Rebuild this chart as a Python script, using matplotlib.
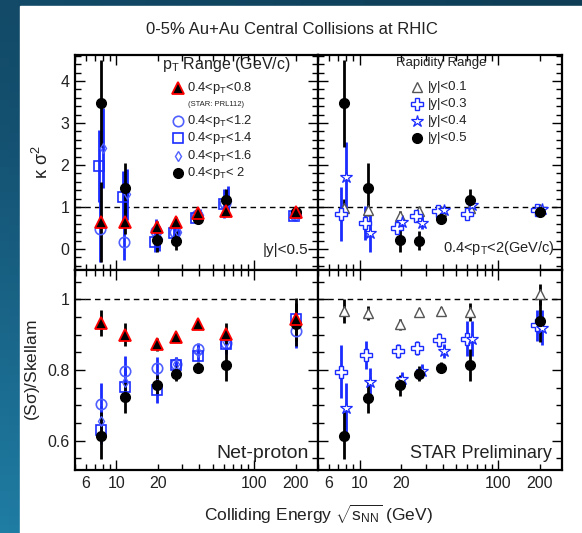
import numpy as np
import matplotlib
matplotlib.use("Agg")
import matplotlib.pyplot as plt
from matplotlib.ticker import FixedLocator, FuncFormatter, MultipleLocator
from matplotlib.colors import LinearSegmentedColormap

plt.rcParams['font.family'] = ['Liberation Sans', 'DejaVu Sans']
plt.rcParams['mathtext.fontset'] = 'custom'
plt.rcParams['mathtext.rm'] = 'Liberation Sans'
plt.rcParams['mathtext.it'] = 'Liberation Sans'
plt.rcParams['mathtext.default'] = 'regular'

# collision energies (GeV)
energy = [7.7, 11.5, 19.6, 27, 39, 62.4, 200]

# kappa*sigma^2, pT ranges, |y|<0.5
ks_pt08 = [0.65, 0.65, 0.52, 0.65, 0.86, 0.90, 0.87]
ks_pt08_err = [0.95, 0.30, 0.15, 0.12, 0.10, 0.10, 0.06]
ks_pt12 = [0.48, 0.17, 0.42, 0.40, 0.80, 1.10, 0.80]
ks_pt12_err = [0.78, 0.44, 0.30, 0.25, 0.15, 0.30, 0.08]
ks_pt14 = [1.98, 1.25, 0.17, 0.38, 0.75, 1.08, 0.78]
ks_pt14_err = [0.85, 0.60, 0.25, 0.20, 0.12, 0.35, 0.06]
ks_pt16 = [2.40, 1.30, 0.25, 0.40, 0.80, 1.15, 0.82]
ks_pt16_err = [0.95, 0.60, 0.30, 0.20, 0.15, 0.35, 0.06]
ks_pt20 = [3.47, 1.45, 0.22, 0.20, 0.72, 1.17, 0.87]
ks_pt20_err = [1.03, 0.60, 0.30, 0.22, 0.10, 0.25, 0.05]

# kappa*sigma^2, rapidity ranges, 0.4<pT<2
ks_y01 = [0.98, 0.93, 0.79, 0.90, 0.90, 0.98, 0.95]
ks_y01_err = [0.20, 0.15, 0.12, 0.10, 0.08, 0.15, 0.05]
ks_y03 = [0.83, 0.62, 0.50, 0.78, 0.90, 0.83, 0.93]
ks_y03_err = [0.65, 0.40, 0.15, 0.12, 0.10, 0.15, 0.05]
ks_y04 = [1.72, 0.39, 0.65, 0.63, 0.92, 1.05, 0.95]
ks_y04_err = [0.82, 0.45, 0.15, 0.15, 0.10, 0.15, 0.05]
ks_y05 = ks_pt20
ks_y05_err = ks_pt20_err

# S*sigma / Skellam, pT ranges
ss_pt08 = [0.933, 0.900, 0.873, 0.892, 0.930, 0.903, 0.943]
ss_pt08_err = [0.037, 0.032, 0.018, 0.010, 0.010, 0.030, 0.060]
ss_pt12 = [0.705, 0.797, 0.807, 0.816, 0.860, 0.875, 0.911]
ss_pt12_err = [0.058, 0.042, 0.030, 0.020, 0.015, 0.030, 0.050]
ss_pt14 = [0.630, 0.752, 0.743, 0.814, 0.841, 0.874, 0.943]
ss_pt14_err = [0.040, 0.040, 0.035, 0.020, 0.015, 0.025, 0.030]
ss_pt16 = [0.657, 0.765, 0.760, 0.818, 0.852, 0.878, 0.930]
ss_pt16_err = [0.040, 0.040, 0.030, 0.020, 0.015, 0.025, 0.040]
ss_pt20 = [0.614, 0.723, 0.757, 0.790, 0.807, 0.814, 0.929]
ss_pt20_err = [0.066, 0.044, 0.028, 0.020, 0.016, 0.045, 0.060]

# S*sigma / Skellam, rapidity ranges
ss_y01 = [0.967, 0.962, 0.929, 0.965, 0.967, 0.964, 1.014]
ss_y01_err = [0.033, 0.020, 0.015, 0.010, 0.010, 0.025, 0.030]
ss_y03 = [0.795, 0.843, 0.854, 0.862, 0.886, 0.889, 0.926]
ss_y03_err = [0.075, 0.040, 0.020, 0.020, 0.020, 0.050, 0.045]
ss_y04 = [0.692, 0.765, 0.774, 0.797, 0.854, 0.889, 0.920]
ss_y04_err = [0.070, 0.040, 0.020, 0.020, 0.020, 0.050, 0.050]
ss_y05 = [0.614, 0.722, 0.757, 0.790, 0.807, 0.814, 0.940]
ss_y05_err = [0.066, 0.044, 0.030, 0.020, 0.016, 0.045, 0.060]

BLUE = '#1a2cff'
LBLUE = '#5060ff'
TXT = '#222222'

styles = {
    'pt08': dict(marker='^', mfc='black', mec='red', mew=1.3, ms=8, ecolor='black'),
    'pt12': dict(marker='o', mfc='none', mec=LBLUE, mew=1.2, ms=7.5, ecolor=BLUE),
    'pt14': dict(marker='s', mfc='none', mec=BLUE, mew=1.2, ms=7, ecolor=BLUE),
    'pt16': dict(marker='d', mfc='none', mec=LBLUE, mew=1.0, ms=5, ecolor=BLUE),
    'pt20': dict(marker='o', mfc='black', mec='black', mew=1.0, ms=7, ecolor='black'),
    'y01': dict(marker='^', mfc='white', mec='#555555', mew=1.0, ms=7, ecolor='black'),
    'y03': dict(marker='P', mfc='white', mec=BLUE, mew=1.0, ms=8, ecolor=BLUE),
    'y04': dict(marker='*', mfc='white', mec=BLUE, mew=0.9, ms=9, ecolor=BLUE),
    'y05': dict(marker='o', mfc='black', mec='black', mew=1.0, ms=7, ecolor='black'),
}


def draw(ax, y, yerr, key, shift=1.0):
    x = np.array(energy) * shift
    st = dict(styles[key])
    ecolor = st.pop('ecolor')
    ax.errorbar(x, y, yerr=yerr, fmt='none', ecolor=ecolor, elinewidth=2, capsize=0, zorder=2)
    ax.plot(x, y, ls='none', zorder=3, **st)


def legend_marker(fig, x, y, key):
    st = dict(styles[key])
    st.pop('ecolor')
    fig.add_artist(plt.Line2D([x], [y], ls='none', transform=fig.transFigure, **st))


def style_axes(ax, bottom_row, left_col):
    ax.set_xscale('log')
    ax.set_xlim(5, 290)
    ax.axhline(1, color='black', ls=(0, (4, 3)), lw=1.0, zorder=1)
    ax.xaxis.set_major_locator(FixedLocator([10, 100]))
    ax.xaxis.set_minor_locator(FixedLocator([5, 6, 7, 8, 9, 20, 30, 40, 50, 60, 70, 80, 90, 200]))
    if bottom_row:
        ax.xaxis.set_major_formatter(FuncFormatter(lambda v, p: '%d' % v))
        ax.xaxis.set_minor_formatter(FuncFormatter(lambda v, p: '%d' % v if v in (6, 20, 200) else ''))
    else:
        ax.xaxis.set_major_formatter(FuncFormatter(lambda v, p: ''))
        ax.xaxis.set_minor_formatter(FuncFormatter(lambda v, p: ''))
    ax.tick_params(which='both', direction='in', top=True, right=True, width=1,
                   labelsize=11.5, labelcolor=TXT, pad=4)
    ax.tick_params(which='major', length=7)
    ax.tick_params(which='minor', length=4)
    if not left_col:
        ax.tick_params(labelleft=False)
    for s in ax.spines.values():
        s.set_linewidth(1.6)


fig = plt.figure(figsize=(5.82, 5.33), dpi=100)

# slide background and white panel
bg = fig.add_axes([0, 0, 1, 1], zorder=-10)
gx, gy = np.meshgrid(np.linspace(0, 1, 64), np.linspace(0, 1, 64))
cmap = LinearSegmentedColormap.from_list('slide', ['#0e3d55', '#145070', '#1f7ca3'])
bg.imshow(0.65 * gy + 0.35 * (1 - gx), cmap=cmap, aspect='auto', extent=[0, 1, 0, 1], origin='upper')
bg.add_patch(plt.Rectangle((20 / 582, 0), 1, (533 - 6) / 533, color='white'))
bg.set_xlim(0, 1)
bg.set_ylim(0, 1)
bg.axis('off')

W, H = 582.0, 533.0
xl, xm, xr = 75 / W, 318 / W, 562 / W
yt, ym, yb = 1 - 55 / H, 1 - 270 / H, 1 - 470 / H

ax_tl = fig.add_axes([xl, ym, xm - xl, yt - ym])
ax_tr = fig.add_axes([xm, ym, xr - xm, yt - ym])
ax_bl = fig.add_axes([xl, yb, xm - xl, ym - yb])
ax_br = fig.add_axes([xm, yb, xr - xm, ym - yb])

# kappa sigma^2 vs pT range
draw(ax_tl, ks_pt12, ks_pt12_err, 'pt12', 0.99)
draw(ax_tl, ks_pt14, ks_pt14_err, 'pt14', 0.97)
draw(ax_tl, ks_pt16, ks_pt16_err, 'pt16', 1.04)
draw(ax_tl, ks_pt20, ks_pt20_err, 'pt20')
draw(ax_tl, ks_pt08, ks_pt08_err, 'pt08')

# kappa sigma^2 vs rapidity range
draw(ax_tr, ks_y01, ks_y01_err, 'y01')
draw(ax_tr, ks_y03, ks_y03_err, 'y03', 0.95)
draw(ax_tr, ks_y04, ks_y04_err, 'y04', 1.04)
draw(ax_tr, ks_y05, ks_y05_err, 'y05')

# S sigma / Skellam vs pT range
draw(ax_bl, ss_pt12, ss_pt12_err, 'pt12')
draw(ax_bl, ss_pt14, ss_pt14_err, 'pt14')
draw(ax_bl, ss_pt16, ss_pt16_err, 'pt16')
draw(ax_bl, ss_pt20, ss_pt20_err, 'pt20')
draw(ax_bl, ss_pt08, ss_pt08_err, 'pt08')

# S sigma / Skellam vs rapidity range
draw(ax_br, ss_y03, ss_y03_err, 'y03', 0.96)
draw(ax_br, ss_y04, ss_y04_err, 'y04', 1.04)
draw(ax_br, ss_y05, ss_y05_err, 'y05')
draw(ax_br, ss_y01, ss_y01_err, 'y01')

for ax in (ax_tl, ax_tr):
    ax.set_ylim(-0.5, 4.62)
    ax.yaxis.set_major_locator(MultipleLocator(1))
    ax.yaxis.set_minor_locator(MultipleLocator(0.2))
for ax in (ax_bl, ax_br):
    ax.set_ylim(0.517, 1.083)
    ax.yaxis.set_major_locator(FixedLocator([0.6, 0.8, 1.0]))
    ax.yaxis.set_minor_locator(MultipleLocator(0.05))
    ax.yaxis.set_major_formatter(FuncFormatter(lambda v, p: '1' if abs(v - 1) < 1e-6 else '%.1f' % v))

style_axes(ax_tl, False, True)
style_axes(ax_tr, False, False)
style_axes(ax_bl, True, True)
style_axes(ax_br, True, False)

ax_tl.set_ylabel(r'$\kappa$ $\sigma^2$', fontsize=13, color=TXT, labelpad=6)
ax_bl.set_ylabel(r'(S$\sigma$)/Skellam', fontsize=12.5, color=TXT, labelpad=4)

fig.text(292 / W, 1 - 30 / H, '0-5% Au+Au Central Collisions at RHIC', ha='center', va='center',
         fontsize=12, color=TXT)
fig.text(318 / W, 1 - 514 / H, r'Colliding Energy $\sqrt{s_{NN}}$ (GeV)', ha='center', va='center',
         fontsize=12.5, color=TXT)

# pT range legend
fig.text(226 / W, 1 - 64 / H, r'p$_T$ Range (GeV/c)', ha='center', va='center', fontsize=11.5, color=TXT)
pt_rows = [('pt08', 88, r'0.4<p$_T$<0.8'), ('pt12', 121, r'0.4<p$_T$<1.2'),
           ('pt14', 138, r'0.4<p$_T$<1.4'), ('pt16', 156, r'0.4<p$_T$<1.6'),
           ('pt20', 173, r'0.4<p$_T$< 2')]
for key, yy, lab in pt_rows:
    legend_marker(fig, 178 / W, 1 - yy / H, key)
    fig.text(187 / W, 1 - yy / H, lab, ha='left', va='center', fontsize=9.3, color=TXT)
fig.text(188 / W, 1 - 105 / H, '(STAR: PRL112)', ha='left', va='center', fontsize=5.5, color=TXT)

# rapidity range legend
fig.text(441 / W, 1 - 63 / H, 'Rapidity Range', ha='center', va='center', fontsize=9.5, color=TXT)
y_rows = [('y01', 87, '|y|<0.1'), ('y03', 104, '|y|<0.3'),
          ('y04', 121, '|y|<0.4'), ('y05', 138, '|y|<0.5')]
for key, yy, lab in y_rows:
    legend_marker(fig, 417 / W, 1 - yy / H, key)
    fig.text(428 / W, 1 - yy / H, lab, ha='left', va='center', fontsize=9.5, color=TXT)

ax_tl.text(0.96, 0.06, '|y|<0.5', transform=ax_tl.transAxes, ha='right', va='bottom', fontsize=11, color=TXT)
ax_tr.text(0.97, 0.06, r'0.4<p$_T$<2(GeV/c)', transform=ax_tr.transAxes, ha='right', va='bottom',
           fontsize=10.5, color=TXT)
ax_bl.text(0.96, 0.04, 'Net-proton', transform=ax_bl.transAxes, ha='right', va='bottom',
           fontsize=14, color=TXT)
ax_br.text(0.96, 0.04, 'STAR Preliminary', transform=ax_br.transAxes, ha='right', va='bottom',
           fontsize=13, color=TXT)

fig.savefig('out.png', dpi=100)
